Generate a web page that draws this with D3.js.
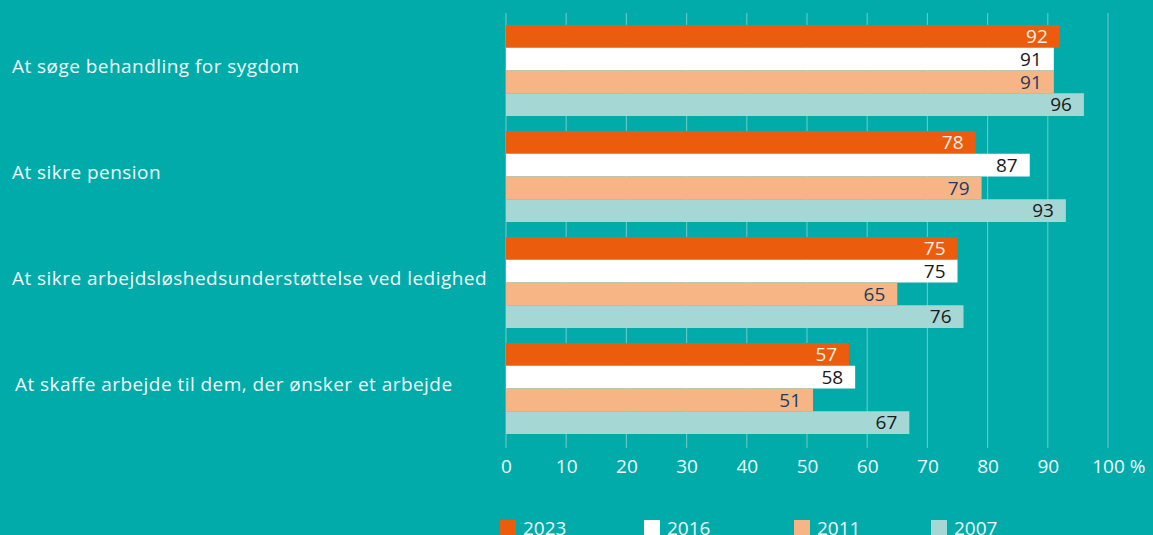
<!DOCTYPE html>
<html><head><meta charset="utf-8">
<script src="https://cdn.jsdelivr.net/npm/d3@7"></script>
<style>
html,body{margin:0;padding:0;background:#00ABAA;overflow:hidden}
svg{display:block}
text{font-family:"Open Sans",sans-serif}
</style></head><body>
<svg id="c" width="1153" height="535"></svg>
<script>
const categories = [
  "At søge behandling for sygdom",
  "At sikre pension",
  "At sikre arbejdsløshedsunderstøttelse ved ledighed",
  "At skaffe arbejde til dem, der ønsker et arbejde"
];
const years = ["2023","2016","2011","2007"];
const v2023 = [92, 78, 75, 57];
const v2016 = [91, 87, 75, 58];
const v2011 = [91, 79, 65, 51];
const v2007 = [96, 93, 76, 67];
const tickValues = [0,10,20,30,40,50,60,70,80,90,100];
const tickLabels = ["0","10","20","30","40","50","60","70","80","90","100 %"];

const series = [v2023, v2016, v2011, v2007];
const colors = ["#EB5C0C","#FFFFFF","#F7B586","#A5D7D5"];
const labelColors = ["#FDF0E6","#1a1a1a","#1F3A68","#1a1a1a"];
const txt = "#F0FAFA";

const svg = d3.select("#c");
const x = d3.scaleLinear().domain([0,100]).range([506,1108]);
const y0 = d3.scaleBand().domain(categories).range([25, 434]).paddingInner(15/106).paddingOuter(0);
const y1 = d3.scaleBand().domain(years).range([0, y0.bandwidth()]);

// gridlines
svg.append("g").selectAll("line").data(tickValues).join("line")
  .attr("x1", d=>x(d)).attr("x2", d=>x(d))
  .attr("y1", 13).attr("y2", 448)
  .attr("stroke", "#62C6C4").attr("stroke-width", 1.2);

// bars
const g = svg.append("g");
categories.forEach((c,i)=>{
  years.forEach((yr,j)=>{
    const val = series[j][i];
    const yy = y0(c)+y1(yr);
    g.append("rect").attr("x", x(0)).attr("y", yy)
      .attr("width", x(val)-x(0)).attr("height", y1.bandwidth())
      .attr("fill", colors[j]);
    g.append("text").attr("x", x(val)-12).attr("y", yy+y1.bandwidth()/2)
      .attr("dy","0.36em").attr("text-anchor","end")
      .attr("font-size", 19).attr("fill", labelColors[j]).text(val);
  });
});

// category labels
svg.append("g").selectAll("text").data(categories).join("text")
  .attr("x", (d,i)=> i===3 ? 15 : 12)
  .attr("y", d=>y0(d)+y0.bandwidth()/2+2)
  .attr("font-size", 19).attr("letter-spacing", "0.45px")
  .attr("fill", txt).text(d=>d);

// x axis labels
const axis = d3.axisBottom(x).tickValues(tickValues).tickSize(0).tickPadding(0).tickFormat((d,i)=>tickLabels[i]);
const ax = svg.append("g").attr("transform","translate(0,0)").call(axis);
ax.select(".domain").remove();
ax.selectAll("text").attr("font-size",19).attr("fill",txt).attr("font-family","Open Sans, sans-serif")
  .attr("y", 473).attr("dy", null);
// last label: centre the number on its tick, with the % sign trailing
const lastT = ax.selectAll(".tick text").filter(d=>d===100);
const tmp = svg.append("text").attr("font-size",19).text(tickLabels[10].split(" ")[0]);
const numW = tmp.node().getComputedTextLength(); tmp.remove();
lastT.attr("text-anchor","start").attr("x", -numW/2);

// legend
const legX = [500, 644, 794, 931];
const leg = svg.append("g");
years.forEach((yr,j)=>{
  leg.append("rect").attr("x", legX[j]).attr("y", 520).attr("width",16).attr("height",16).attr("fill",colors[j]);
  leg.append("text").attr("x", legX[j]+23).attr("y", 535)
    .attr("font-size",19).attr("fill",txt).text(yr);
});
</script>
</body></html>
